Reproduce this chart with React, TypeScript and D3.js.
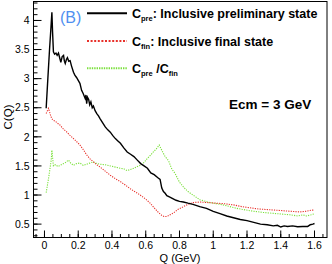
import React from "react";
import * as d3 from "d3";

const qPre = [0.010,0.020,0.030,0.040,0.044,0.048,0.053,0.060,0.068,0.075,0.083,0.090,0.097,0.105,0.113,0.118,0.123,0.130,0.136,0.144,0.152,0.160,0.172,0.180,0.190,0.200,0.210,0.220,0.230,0.241,0.246,0.250,0.255,0.262,0.268,0.275,0.283,0.290,0.300,0.310,0.320,0.330,0.345,0.360,0.375,0.390,0.405,0.420,0.435,0.450,0.470,0.490,0.510,0.530,0.550,0.570,0.590,0.610,0.630,0.650,0.670,0.685,0.695,0.705,0.715,0.725,0.740,0.760,0.780,0.800,0.823,0.850,0.880,0.920,0.960,1.000,1.040,1.080,1.120,1.160,1.200,1.240,1.280,1.320,1.356,1.380,1.400,1.420,1.440,1.470,1.500,1.530,1.560,1.575,1.590,1.600];
const cPre = [2.49,3.0,3.5,3.95,4.14,3.8,3.46,3.42,3.44,3.40,3.44,3.36,3.28,3.38,3.40,3.30,3.26,3.33,3.36,3.30,3.31,3.22,3.11,3.06,3.02,2.97,2.92,2.80,2.74,2.66,2.72,2.57,2.68,2.64,2.55,2.60,2.50,2.53,2.45,2.40,2.36,2.31,2.24,2.17,2.12,2.08,2.02,1.97,1.93,1.89,1.81,1.74,1.70,1.66,1.60,1.54,1.50,1.46,1.38,1.35,1.30,1.27,1.12,1.06,1.03,0.99,0.97,0.94,0.91,0.89,0.88,0.86,0.84,0.80,0.77,0.72,0.68,0.64,0.61,0.58,0.56,0.53,0.50,0.49,0.47,0.48,0.45,0.47,0.46,0.47,0.455,0.46,0.46,0.49,0.50,0.51];

const qFin = [0.010,0.024,0.035,0.044,0.055,0.063,0.075,0.093,0.110,0.133,0.150,0.172,0.190,0.210,0.230,0.250,0.270,0.290,0.310,0.330,0.360,0.390,0.420,0.450,0.480,0.507,0.540,0.567,0.600,0.626,0.650,0.675,0.695,0.710,0.725,0.744,0.764,0.790,0.823,0.850,0.880,0.920,0.970,1.020,1.070,1.120,1.170,1.218,1.270,1.317,1.370,1.415,1.460,1.514,1.550,1.580,1.600];
const cFin = [2.40,2.49,2.38,2.31,2.28,2.27,2.24,2.20,2.14,2.08,2.03,1.97,1.92,1.86,1.78,1.69,1.62,1.57,1.52,1.48,1.41,1.34,1.28,1.23,1.17,1.11,1.05,1.00,0.93,0.86,0.78,0.70,0.65,0.63,0.63,0.66,0.69,0.75,0.80,0.84,0.87,0.88,0.87,0.86,0.85,0.83,0.80,0.78,0.76,0.75,0.74,0.73,0.72,0.71,0.72,0.74,0.74];

const qRatio = [0.010,0.025,0.040,0.044,0.053,0.065,0.080,0.093,0.105,0.113,0.125,0.142,0.155,0.172,0.190,0.210,0.230,0.250,0.270,0.290,0.310,0.330,0.360,0.390,0.420,0.450,0.470,0.490,0.510,0.530,0.550,0.567,0.590,0.610,0.630,0.645,0.665,0.680,0.695,0.715,0.735,0.754,0.774,0.800,0.823,0.850,0.880,0.920,0.980,1.060,1.140,1.218,1.297,1.376,1.455,1.500,1.530,1.553,1.580,1.600];
const cRatio = [1.04,1.30,1.60,1.77,1.50,1.52,1.49,1.51,1.53,1.54,1.56,1.60,1.55,1.51,1.54,1.55,1.51,1.53,1.55,1.57,1.54,1.53,1.52,1.50,1.48,1.46,1.45,1.42,1.44,1.46,1.49,1.51,1.56,1.63,1.69,1.74,1.80,1.86,1.77,1.66,1.59,1.45,1.37,1.22,1.14,1.06,1.00,0.92,0.87,0.83,0.77,0.73,0.70,0.68,0.66,0.64,0.66,0.64,0.66,0.68];

const xTicks = [0, 0.2, 0.4, 0.6, 0.8, 1, 1.2, 1.4, 1.6];
const yTicks = [0.5, 1, 1.5, 2, 2.5, 3, 3.5, 4];

const W = 332, H = 264;
const L = 33.5, R = 327, T = 1.5, B = 237.5;
const FONT = "'Liberation Sans', Arial, sans-serif";

export default function App() {
  const x = d3.scaleLinear().domain([-0.065, 1.674]).range([L, R]);
  const y = d3.scaleLinear().domain([0.27, 4.326]).range([B, T]);
  const mk = (qs: number[], cs: number[]) =>
    d3.line<number>().x((_, i) => x(qs[i])).y((d) => y(d))(cs) || "";

  const xMinor = d3.range(-0.05, 1.6751, 0.05).filter((v) => v >= -0.065);
  const yMinor = d3.range(0.3, 4.31, 0.1);

  return (
    <svg width={W} height={H} style={{ position: "absolute", left: 0, top: 0, background: "#fff" }} fontFamily={FONT}>
      <rect x={0} y={0} width={W} height={H} fill="#fff" />
      {/* minor ticks */}
      {xMinor.map((v, i) => (
        <line key={"xm" + i} x1={x(v)} x2={x(v)} y1={B} y2={B - 3.5} stroke="#000" strokeWidth={1} />
      ))}
      {xTicks.map((v, i) => (
        <line key={"xM" + i} x1={x(v)} x2={x(v)} y1={B} y2={B - 7} stroke="#000" strokeWidth={1} />
      ))}
      {yMinor.map((v, i) => (
        <line key={"ym" + i} x1={L} x2={L + 4} y1={y(v)} y2={y(v)} stroke="#000" strokeWidth={1} />
      ))}
      {yTicks.map((v, i) => (
        <line key={"yM" + i} x1={L} x2={L + 8} y1={y(v)} y2={y(v)} stroke="#000" strokeWidth={1} />
      ))}
      {/* curves */}
      <path d={mk(qRatio, cRatio)} fill="none" stroke="#7be03c" strokeWidth={1.1} strokeDasharray="1.2,1.2" />
      <path d={mk(qFin, cFin)} fill="none" stroke="#e8302a" strokeWidth={1.1} strokeDasharray="1.2,1.2" />
      <path d={mk(qPre, cPre)} fill="none" stroke="#000" strokeWidth={1.4} />
      {/* frame */}
      <rect x={L} y={T} width={R - L} height={B - T} fill="none" stroke="#000" strokeWidth={1} />
      {/* tick labels */}
      {xTicks.map((v, i) => (
        <text key={"xl" + i} x={x(v)} y={249} fontSize={10.5} textAnchor="middle" fill="#000">{String(v)}</text>
      ))}
      {yTicks.map((v, i) => (
        <text key={"yl" + i} x={29.5} y={y(v) + 3.7} fontSize={10.5} textAnchor="end" fill="#000">{String(v)}</text>
      ))}
      <text x={180} y={262} fontSize={11} textAnchor="middle" fill="#000">Q (GeV)</text>
      <text transform="translate(11.5,117) rotate(-90)" fontSize={11.5} textAnchor="middle" fill="#000">C(Q)</text>
      {/* (B) */}
      <text x={60} y={23} fontSize={16} fill="#4f8ff0">(B)</text>
      {/* legend */}
      <line x1={87} x2={127} y1={13.3} y2={13.3} stroke="#000" strokeWidth={2} />
      <line x1={87} x2={127} y1={41} y2={41} stroke="#e8302a" strokeWidth={2} strokeDasharray="2,1.6" />
      <line x1={87} x2={127} y1={68.3} y2={68.3} stroke="#7be03c" strokeWidth={2} strokeDasharray="1.4,1" />
      <text x={132} y={18} fontSize={12.5} fontWeight="bold" fill="#000">
        C<tspan fontSize={7.5} dy={3}>pre</tspan><tspan dy={-3}>: Inclusive preliminary state</tspan>
      </text>
      <text x={132} y={45.5} fontSize={12.5} fontWeight="bold" fill="#000">
        C<tspan fontSize={7.5} dy={3}>fin</tspan><tspan dy={-3}>: Inclusive final state</tspan>
      </text>
      <text x={132} y={73} fontSize={12.5} fontWeight="bold" fill="#000">
        C<tspan fontSize={7.5} dy={3}>pre</tspan><tspan dy={-3}> /C</tspan><tspan fontSize={7.5} dy={3}>fin</tspan>
      </text>
      <text x={229} y={109} fontSize={13.5} fontWeight="bold" fill="#000">Ecm = 3 GeV</text>
    </svg>
  );
}
